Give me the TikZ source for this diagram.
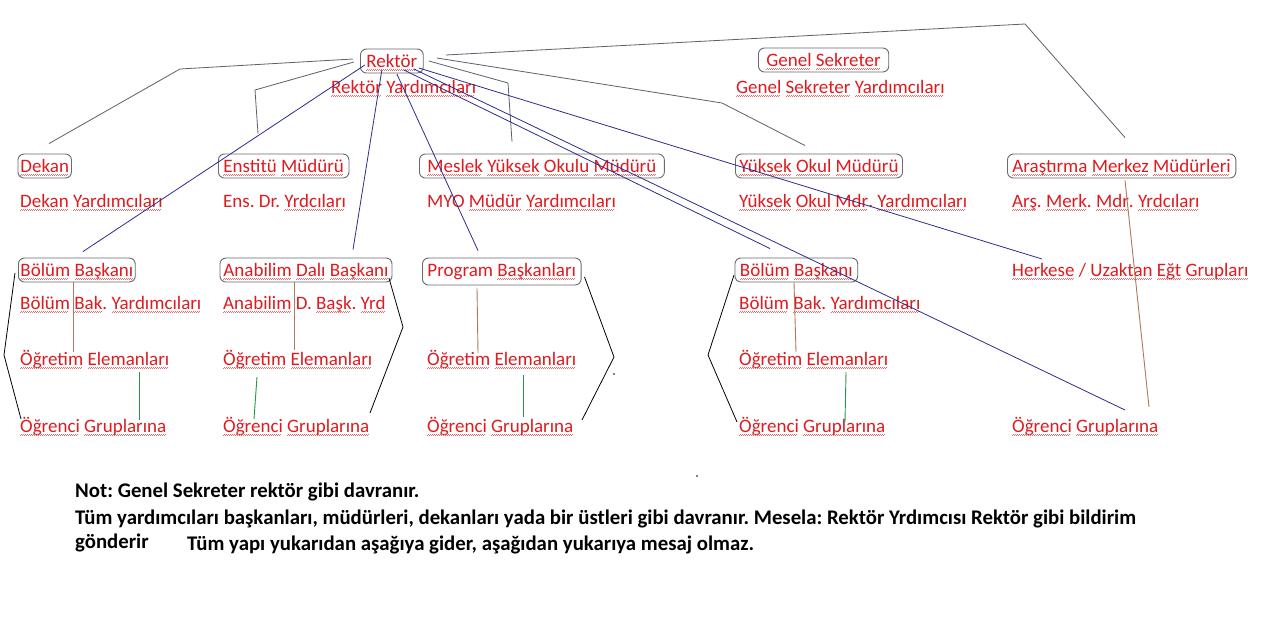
\documentclass[tikz,border=0pt]{standalone}
\usepackage{fontspec}
\setmainfont{Carlito}
\usetikzlibrary{calc}
\definecolor{txtred}{RGB}{222,28,32}
\definecolor{wavered}{RGB}{232,110,110}
\definecolor{linegray}{RGB}{95,95,110}
\definecolor{boxgray}{RGB}{105,105,110}
\definecolor{navyl}{RGB}{45,45,140}
\definecolor{brownl}{RGB}{175,120,90}
\definecolor{greenl}{RGB}{40,150,70}
\newsavebox\wvbox
\newcommand\wv[1]{\hbox{\sbox\wvbox{#1}\rlap{\usebox\wvbox}{\color{wavered}\leaders\hbox to 2pt{\raisebox{-3.8pt}{\rule{1pt}{0.6pt}}\raisebox{-3pt}{\rule{1pt}{0.6pt}}}\hskip\wd\wvbox\relax}}}
\frenchspacing
\begin{document}
\frenchspacing
\begin{tikzpicture}[x=1pt,y=-1pt,
  lbl/.style={anchor=base west, inner sep=0pt, text=txtred, font=\fontsize{19}{23}\selectfont\frenchspacing},
  bx/.style={lbl, draw=boxgray, line width=0.9pt, rounded corners=6pt, inner ysep=2pt, text height=16pt, text depth=4pt},
  note/.style={anchor=base west, inner sep=0pt, font=\fontsize{20.8}{24}\selectfont\bfseries\frenchspacing},
  gl/.style={draw=linegray, line width=0.8pt},
  bl/.style={draw=navyl, line width=0.8pt},
  brl/.style={draw=brownl, line width=0.9pt},
  grl/.style={draw=greenl, line width=0.9pt},
  kl/.style={draw=black, line width=0.8pt}]
\useasboundingbox (0,0) rectangle (1261,616);
\fill[white] (0,0) rectangle (1261,616);

% top level
\node[bx, inner xsep=6pt] (rektor) at (360,67) {\wv{Rektör}};
\node[lbl] (rektorY) at (331,93) {\wv{Rektör} \wv{Yardımcıları}};
\node[bx, inner xsep=8pt] (genel) at (758,66) {\wv{Genel} \wv{Sekreter}};
\node[lbl] (genelY) at (736,93) {\wv{Genel} \wv{Sekreter} \wv{Yardımcıları}};

% second level
\node[bx, inner xsep=2.5pt] (dekan) at (17.5,172) {\wv{Dekan}};
\node[lbl] (dekanY) at (20,207) {\wv{Dekan} \wv{Yardımcıları}};
\node[bx, inner xsep=5pt] (enst) at (218,172) {\wv{Enstitü} \wv{Müdürü}};
\node[lbl] (enstY) at (223,207) {Ens. Dr. \wv{Yrdcıları}};
\node[bx, inner xsep=8pt] (myo) at (419,172) {\wv{Meslek} \wv{Yüksek} \wv{Okulu} \wv{Müdürü}};
\node[lbl] (myoY) at (427,207) {MYO \wv{Müdür} \wv{Yardımcıları}};
\node[bx, inner xsep=4pt] (yom) at (735,172) {\wv{Yüksek} \wv{Okul} \wv{Müdürü}};
\node[lbl] (yomY) at (739,207) {\wv{Yüksek} \wv{Okul} \wv{Mdr}. \wv{Yardımcıları}};
\node[bx, inner xsep=5pt] (arm) at (1007,172) {\wv{Araştırma} \wv{Merkez} \wv{Müdürleri}};
\node[lbl] (armY) at (1012,207) {\wv{Arş}. \wv{Merk}. \wv{Mdr}. \wv{Yrdcıları}};

% third level
\node[bx, inner xsep=2pt] (bb1) at (18,276) {\wv{Bölüm} \wv{Başkanı}};
\node[lbl] (bb1Y) at (20,309) {\wv{Bölüm} \wv{Bak}. \wv{Yardımcıları}};
\node[bx, inner xsep=3.5pt] (abd) at (219.5,276) {\wv{Anabilim} \wv{Dalı} \wv{Başkanı}};
\node[lbl] (abdY) at (223,309) {\wv{Anabilim} D. \wv{Başk}. \wv{Yrd}};
\node[bx, inner xsep=5pt, text depth=7pt] (prog) at (422,276) {Program \wv{Başkanları}};
\node[bx, inner xsep=5pt] (bb2) at (734.5,276) {\wv{Bölüm} \wv{Başkanı}};
\node[lbl] (bb2Y) at (739,309) {\wv{Bölüm} \wv{Bak}. \wv{Yardımcıları}};
\node[lbl] (herkes) at (1012,276) {\wv{Herkese} / \wv{Uzaktan} \wv{Eğt} \wv{Grupları}};

% staff and students
\node[lbl] (oe1) at (20,365) {\wv{Öğretim} \wv{Elemanları}};
\node[lbl] (oe2) at (223,365) {\wv{Öğretim} \wv{Elemanları}};
\node[lbl] (oe3) at (427,365) {\wv{Öğretim} \wv{Elemanları}};
\node[lbl] (oe4) at (739,365) {\wv{Öğretim} \wv{Elemanları}};
\node[lbl] (og1) at (20,432) {\wv{Öğrenci} \wv{Gruplarına}};
\node[lbl] (og2) at (223,432) {\wv{Öğrenci} \wv{Gruplarına}};
\node[lbl] (og3) at (427,432) {\wv{Öğrenci} \wv{Gruplarına}};
\node[lbl] (og4) at (739,432) {\wv{Öğrenci} \wv{Gruplarına}};
\node[lbl] (og5) at (1012,432) {\wv{Öğrenci} \wv{Gruplarına}};

% notes
\node[note] (not1) at (75,497) {Not: Genel Sekreter rektör gibi davranır.};
\node[note] (not2) at (75,524) {Tüm yardımcıları başkanları, müdürleri, dekanları yada bir üstleri gibi davranır. Mesela: Rektör Yrdımcısı Rektör gibi bildirim};
\node[note] (not3a) at (75,548) {gönderir};
\node[note] (not3b) at (187,550) {Tüm yapı yukarıdan aşağıya gider, aşağıdan yukarıya mesaj olmaz.};

% gray connectors from Rektör
\coordinate (gb1) at (180,69);
\coordinate (gb2) at (255,90);
\coordinate (gb3) at (508,83);
\coordinate (gb4) at (722,103);
\coordinate (gb5) at (1025,24);
\draw[gl] ($(rektor.center)+(-39,-2)$) -- (gb1) -- ($(dekan.north west)+(31.5,-10)$);
\draw[gl] ($(rektor.center)+(-38,1)$) -- (gb2) -- ($(enst.north west)+(40,-20)$);
\draw[gl] ($(rektor.center)+(37,0)$) -- (gb3) -- ($(myo.north west)+(93,-12)$);
\draw[gl] ($(rektor.center)+(45,-3)$) -- (gb4) -- ($(yom.north west)+(70,-8)$);
\draw[gl] ($(rektor.center)+(54,-6)$) -- (gb5) -- ($(arm.north west)+(118,-16)$);

% blue connectors from Rektör
\draw[bl] ($(rektor.center)+(-27,4)$) -- ($(bb1.north west)+(65,-6)$);
\draw[bl] ($(rektor.center)+(-10,9)$) -- ($(abd.north west)+(133.5,-8)$);
\draw[bl] ($(rektor.center)+(5,13)$) -- ($(prog.north west)+(56,-7)$);
\draw[bl] ($(rektor.center)+(12,9)$) -- ($(bb2.north west)+(35.5,-9)$);
\draw[bl] ($(rektor.center)+(22,8)$) -- ($(og5.base west)+(113,-22)$);
\draw[bl] ($(rektor.center)+(27,7)$) -- ($(herkes.base west)+(30,-17)$);

% brown connectors
\draw[brl] ($(bb1.south west)+(55,0)$) -- ($(oe1.base west)+(53,-13)$);
\draw[brl] ($(abd.south west)+(74.5,0)$) -- ($(oe2.base west)+(71,-15)$);
\draw[brl] ($(prog.south west)+(55,3)$) -- ($(oe3.base west)+(51,-12)$);
\draw[brl] ($(bb2.south west)+(59.5,0)$) -- ($(oe4.base west)+(57,-13)$);
\draw[brl] ($(arm.south west)+(118,2)$) -- ($(og5.base west)+(137,-25)$);

% green connectors
\draw[grl] ($(oe1.base west)+(119,7)$) -- ($(og1.base west)+(119,-12)$);
\draw[grl] ($(oe2.base west)+(34,12)$) -- ($(og2.base west)+(31,-13)$);
\draw[grl] ($(oe3.base west)+(96,10)$) -- ($(og3.base west)+(96,-15)$);
\draw[grl] ($(oe4.base west)+(107,7)$) -- ($(og4.base west)+(106,-10)$);

% black brackets
\coordinate (kb1) at (4,355);
\coordinate (kb2) at (403,327);
\coordinate (kb3) at (614,357);
\coordinate (kb4) at (708,355);
\draw[kl] ($(bb1.base west)+(-3,-3)$) -- (kb1) -- ($(og1.base west)+(1,-13)$);
\draw[kl] ($(abd.base east)+(-3.5,2)$) -- (kb2) -- ($(og2.base west)+(147,-19)$);
\draw[kl] ($(prog.base east)+(3,1)$) -- (kb3) -- ($(og3.base west)+(155,-12)$);
\draw[kl] ($(bb2.base west)+(-0.5,-1)$) -- (kb4) -- ($(og4.base west)+(-2,-10)$);

% stray marks
\fill[black] (614,374) circle (0.8);
\fill[black] (697,476) circle (0.8);
\end{tikzpicture}
\end{document}
